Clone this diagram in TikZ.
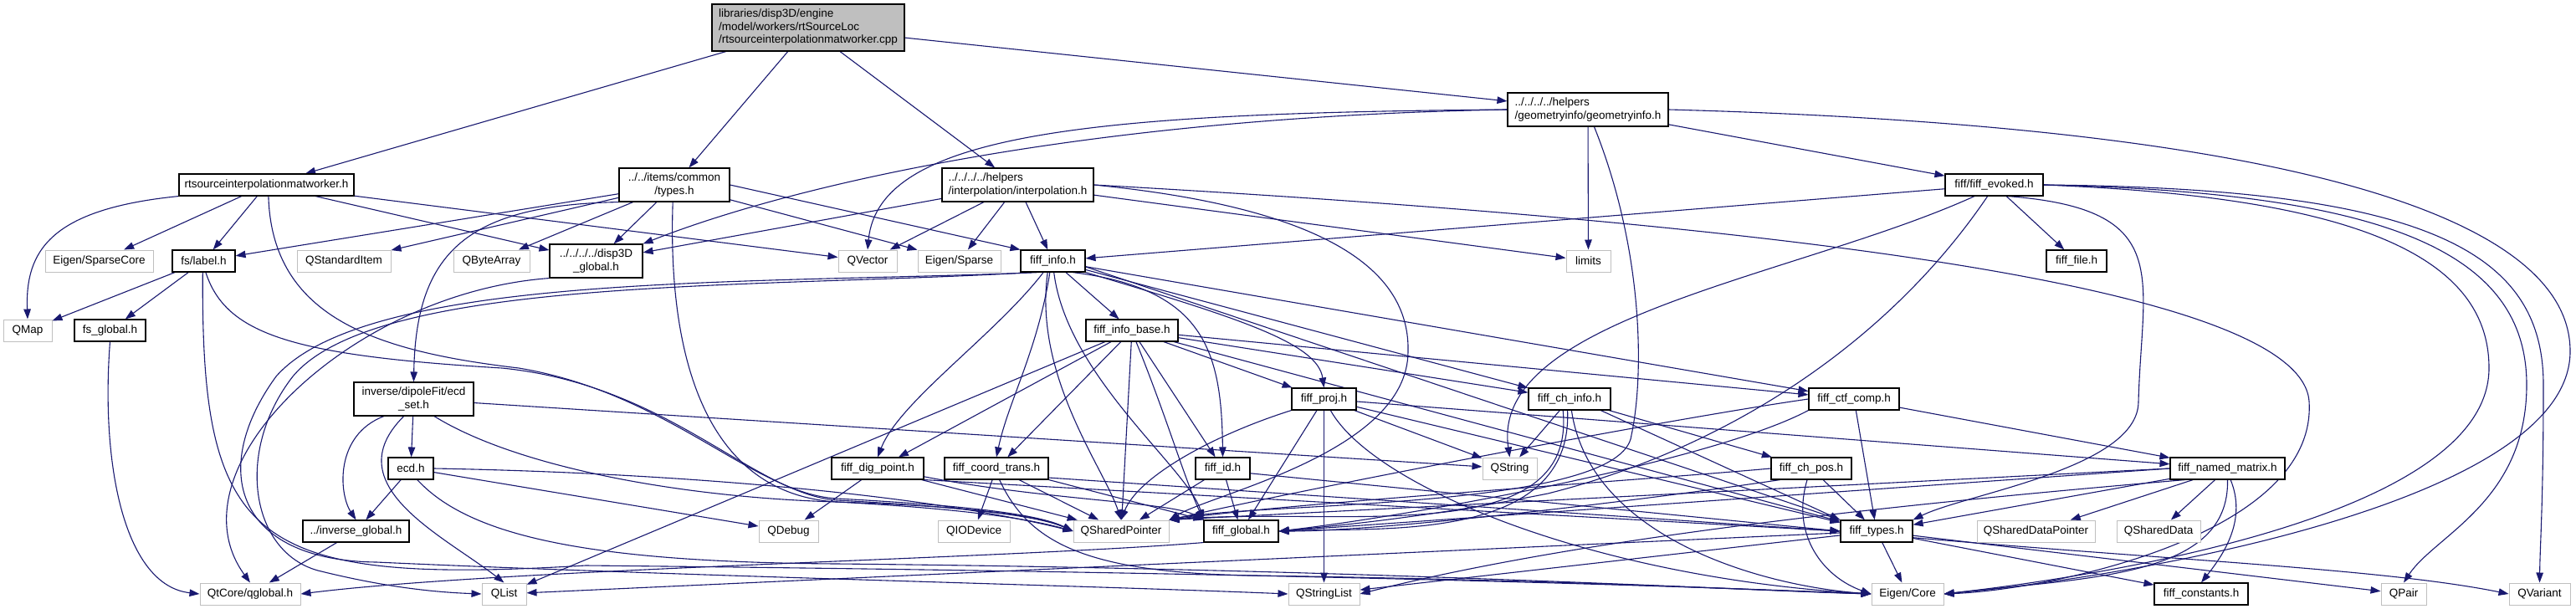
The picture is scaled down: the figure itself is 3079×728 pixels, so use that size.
\documentclass[tikz,border=0pt]{standalone}
\usepackage{fontspec}
\setmainfont{Liberation Sans}
\usetikzlibrary{arrows.meta,shadows}
\definecolor{dblue}{HTML}{191970}
\definecolor{lgray}{HTML}{BFBFBF}
\pgfdeclarelayer{bg}
\pgfsetlayers{bg,main}
\begin{document}
\begin{tikzpicture}[x=1pt,y=-1pt,
  base/.style={font=\fontsize{13.5}{15.5}\selectfont, inner sep=0pt, minimum height=26pt, fill=white},
  fnode/.style={base, draw=black, line width=1.1pt, drop shadow={shadow xshift=1.2pt, shadow yshift=-1.2pt, fill=black!55, opacity=1}},
  xnode/.style={base, draw=lgray, line width=1pt},
  ed/.style={draw=dblue, line width=1.1pt, -{Triangle[length=12pt,width=8.5pt]}}]
\useasboundingbox (0,0) rectangle (3079,728);
% rank 0-2
\node[fnode, fill=lgray, align=left, minimum width=230pt, minimum height=56pt] (main) at (966,33) {libraries/disp3D/engine\\/model/workers/rtSourceLoc\\/rtsourceinterpolationmatworker.cpp};
\node[fnode, align=left, minimum width=192pt, minimum height=40pt] (geom) at (1898,131) {../../../../helpers\\/geometryinfo/geometryinfo.h};
\node[fnode, minimum width=209pt] (rts) at (318.5,221) {rtsourceinterpolationmatworker.h};
\node[fnode, align=center, minimum width=132pt, minimum height=40pt] (types) at (806,221) {../../items/common\\/types.h};
\node[fnode, align=left, minimum width=181pt, minimum height=40pt] (interp) at (1216.5,221) {../../../../helpers\\/interpolation/interpolation.h};
\node[fnode, minimum width=117pt] (evoked) at (2383.5,221) {fiff/fiff\_evoked.h};
% rank 3
\node[xnode, minimum width=129pt] (sparsecore) at (118.5,312) {Eigen/SparseCore};
\node[fnode, minimum width=75pt] (label) at (243.5,312) {fs/label.h};
\node[xnode, minimum width=112pt] (qstditem) at (411,312) {QStandardItem};
\node[xnode, minimum width=91pt] (qbytearray) at (587.5,312) {QByteArray};
\node[fnode, align=center, minimum width=111pt, minimum height=40pt] (d3global) at (712.5,312) {../../../../disp3D\\\_global.h};
\node[xnode, minimum width=70pt] (qvector) at (1037,312) {QVector};
\node[xnode, minimum width=99pt] (esparse) at (1146.5,312) {Eigen/Sparse};
\node[fnode, minimum width=77pt] (finfo) at (1258.5,312) {fiff\_info.h};
\node[xnode, minimum width=53pt] (limits) at (1898.5,312) {limits};
\node[fnode, minimum width=72pt] (ffile) at (2482,312) {fiff\_file.h};
% rank 4
\node[xnode, minimum width=58pt] (qmap) at (33,395) {QMap};
\node[fnode, minimum width=85pt] (fsglobal) at (131.5,395) {fs\_global.h};
\node[fnode, minimum width=110pt] (fibase) at (1353,395) {fiff\_info\_base.h};
% rank 5
\node[fnode, align=center, minimum width=143pt, minimum height=40pt] (ecdset) at (494.5,477) {inverse/dipoleFit/ecd\\\_set.h};
\node[fnode, minimum width=77pt] (fproj) at (1582.5,477) {fiff\_proj.h};
\node[fnode, minimum width=98pt] (fchinfo) at (1876,477) {fiff\_ch\_info.h};
\node[fnode, minimum width=108pt] (fctf) at (2216,477) {fiff\_ctf\_comp.h};
% rank 6
\node[fnode, minimum width=54pt] (ecd) at (491,560) {ecd.h};
\node[fnode, minimum width=110pt] (fdig) at (1049,560) {fiff\_dig\_point.h};
\node[fnode, minimum width=124pt] (fcoord) at (1191,560) {fiff\_coord\_trans.h};
\node[fnode, minimum width=65pt] (fid) at (1461.5,560) {fiff\_id.h};
\node[xnode, minimum width=65pt] (qstring) at (1804.5,560) {QString};
\node[fnode, minimum width=96pt] (fchpos) at (2165,560) {fiff\_ch\_pos.h};
\node[fnode, minimum width=137pt] (fnamed) at (2662.5,560) {fiff\_named\_matrix.h};
% rank 7
\node[fnode, minimum width=127pt] (invglobal) at (425.5,635) {../inverse\_global.h};
\node[xnode, minimum width=71pt] (qdebug) at (942.5,635) {QDebug};
\node[xnode, minimum width=86pt] (qiodevice) at (1164,635) {QIODevice};
\node[xnode, minimum width=114pt] (qsp) at (1340,635) {QSharedPointer};
\node[fnode, minimum width=89pt] (fglobal) at (1483.5,635) {fiff\_global.h};
\node[fnode, minimum width=86pt] (ftypes) at (2243,635) {fiff\_types.h};
\node[xnode, minimum width=141pt] (qsdp) at (2433.5,635) {QSharedDataPointer};
\node[xnode, minimum width=100pt] (qsd) at (2580,635) {QSharedData};
% rank 8
\node[xnode, minimum width=120pt] (qglobal) at (299,710) {QtCore/qglobal.h};
\node[xnode, minimum width=53pt] (qlist) at (602.5,710) {QList};
\node[xnode, minimum width=85pt] (qsl) at (1582.5,710) {QStringList};
\node[xnode, minimum width=86pt] (ecore) at (2280,710) {Eigen/Core};
\node[fnode, minimum width=112pt] (fconst) at (2631,710) {fiff\_constants.h};
\node[xnode, minimum width=54pt] (qpair) at (2873,710) {QPair};
\node[xnode, minimum width=73pt] (qvariant) at (3035.5,710) {QVariant};

\begin{pgfonlayer}{bg}
\fill[white] (0,0) rectangle (3079,728);
% main
\draw[ed] (main) -- (rts);
\draw[ed] (main) -- (types);
\draw[ed] (main) -- (interp);
\draw[ed] (main) -- (geom);
% rtsource h
\draw[ed] (rts.south west) .. controls (60,250) and (30,300) .. (qmap.north);
\draw[ed] (rts) -- (sparsecore);
\draw[ed] (rts) -- (label);
\draw[ed] (rts) -- (d3global);
\draw[ed] (rts) -- (qvector);
\draw[ed] (rts.-80) .. controls (325,380) and (450,420) .. (620,440) .. controls (800,470) and (900,590) .. (1000,596) .. controls (1150,604) and (1240,614) .. (qsp.west);
% types
\draw[ed] (types) -- (label);
\draw[ed] (types) -- (qstditem);
\draw[ed] (types) -- (qbytearray);
\draw[ed] (types) -- (d3global);
\draw[ed] (types) -- (esparse);
\draw[ed] (types.east) -- (finfo.north west);
\draw[ed] (types.south west) .. controls (560,245) and (497,300) .. (ecdset.north);
\draw[ed] (types.-95) .. controls (798,420) and (840,590) .. (1000,600) .. controls (1150,608) and (1230,620) .. (qsp.west);
% interpolation
\draw[ed] (interp) -- (d3global);
\draw[ed] (interp) -- (qvector);
\draw[ed] (interp) -- (esparse);
\draw[ed] (interp) -- (finfo);
\draw[ed] (interp) -- (limits);
\draw[ed] (interp.east) .. controls (1600,250) and (1685,330) .. (1683,420) .. controls (1683,540) and (1450,590) .. (qsp.north east);
\draw[ed] (interp.east) .. controls (2000,260) and (2750,330) .. (2760,480) .. controls (2770,640) and (2450,705) .. (ecore.east);
% geometryinfo
\draw[ed] (geom.west) .. controls (1300,135) and (1050,160) .. (qvector.north);
\draw[ed] (geom.west) .. controls (1300,140) and (950,220) .. (d3global.north east);
\draw[ed] (geom) -- (limits);
\draw[ed] (geom.-70) .. controls (1965,300) and (1965,450) .. (1950,520) .. controls (1940,610) and (1500,600) .. (qsp.north east);
\draw[ed] (geom) -- (evoked);
\draw[ed] (geom.east) .. controls (2700,150) and (3072,250) .. (3072,420) .. controls (3072,600) and (2550,690) .. (ecore.east);
% evoked
\draw[ed] (evoked) -- (finfo);
\draw[ed] (evoked) -- (ffile);
\draw[ed] (evoked.-150) .. controls (2150,330) and (1780,380) .. (qstring.north);
\draw[ed] (evoked.-120) .. controls (2250,420) and (2050,540) .. (1850,590) .. controls (1700,620) and (1580,630) .. (fglobal.east);
\draw[ed] (evoked.-40) .. controls (2600,250) and (2560,330) .. (2556,480) .. controls (2556,560) and (2350,590) .. (ftypes.north east);
\draw[ed] (evoked.east) .. controls (2800,235) and (2975,300) .. (2975,440) .. controls (2975,620) and (2500,690) .. (ecore.east);
\draw[ed] (evoked.east) .. controls (2850,230) and (3020,300) .. (3020,460) .. controls (3020,600) and (2910,640) .. (qpair.north);
\draw[ed] (evoked.east) .. controls (2900,225) and (3040,300) .. (3040,460) .. controls (3040,600) and (3036,650) .. (qvariant.north);
% label
\draw[ed] (label) -- (qmap);
\draw[ed] (label) -- (fsglobal);
\draw[ed] (label.-95) .. controls (240,650) and (300,700) .. (700,676) .. controls (1500,684) and (2000,700) .. (ecore.west);
\draw[ed] (label.-80) .. controls (270,400) and (350,425) .. (600,440) .. controls (800,460) and (900,590) .. (1000,598) .. controls (1150,606) and (1240,616) .. (qsp.west);
% globals
\draw[ed] (fsglobal.south) .. controls (120,560) and (150,700) .. (qglobal.west);
\draw[ed] (d3global.south west) .. controls (420,350) and (200,560) .. (qglobal.north);
\draw[ed] (invglobal) -- (qglobal);
\draw[ed] (fglobal.south west) .. controls (1200,668) and (600,680) .. (qglobal.east);
% ecd_set
\draw[ed] (ecdset) -- (ecd);
\draw[ed] (ecdset.-150) .. controls (400,520) and (405,590) .. (invglobal.north);
\draw[ed] (ecdset.-120) .. controls (400,580) and (530,640) .. (qlist.north);
\draw[ed] (ecdset) -- (qstring);
\draw[ed] (ecdset.-40) .. controls (620,560) and (820,595) .. (1000,600) .. controls (1150,605) and (1240,615) .. (qsp.west);
% ecd
\draw[ed] (ecd) -- (invglobal);
\draw[ed] (ecd) -- (qdebug);
\draw[ed] (ecd.east) .. controls (800,565) and (1100,590) .. (qsp.west);
\draw[ed] (ecd.-60) .. controls (560,640) and (700,672) .. (1000,674) .. controls (1600,680) and (2000,702) .. (ecore.west);
% fiff_info
\draw[ed] (finfo) -- (fibase);
\draw[ed] (finfo.south east) .. controls (1480,380) and (1575,410) .. (fproj.north);
\draw[ed] (finfo) -- (fchinfo);
\draw[ed] (finfo) -- (fctf);
\draw[ed] (finfo.-130) .. controls (1190,400) and (1075,480) .. (fdig.north);
\draw[ed] (finfo.-105) .. controls (1240,420) and (1205,480) .. (fcoord.north);
\draw[ed] (finfo.-30) .. controls (1440,345) and (1460,420) .. (fid.north);
\draw[ed] (finfo.-115) .. controls (1235,450) and (1320,560) .. (qsp.north);
\draw[ed] (finfo.-85) .. controls (1275,450) and (1420,560) .. (fglobal.north west);
\draw[ed] (finfo.-10) -- (ftypes.north west);
\draw[ed] (finfo.-150) .. controls (900,345) and (450,330) .. (350,450) .. controls (280,540) and (300,660) .. (380,682) .. controls (460,702) and (520,708) .. (qlist.west);
\draw[ed] (finfo.-140) .. controls (900,340) and (440,325) .. (330,450) .. controls (250,560) and (280,670) .. (450,672) .. controls (800,688) and (1300,700) .. (qsl.west);
% fiff_info_base
\draw[ed] (fibase) -- (fproj);
\draw[ed] (fibase) -- (fchinfo);
\draw[ed] (fibase) -- (fctf);
\draw[ed] (fibase) -- (fdig);
\draw[ed] (fibase) -- (fcoord);
\draw[ed] (fibase) -- (fid);
\draw[ed] (fibase) -- (qsp);
\draw[ed] (fibase.-70) .. controls (1395,500) and (1415,570) .. (fglobal.north west);
\draw[ed] (fibase) -- (ftypes);
\draw[ed] (fibase) -- (qlist);
% fiff_proj
\draw[ed] (fproj.south west) .. controls (1450,520) and (1360,570) .. (qsp.north);
\draw[ed] (fproj) -- (fglobal);
\draw[ed] (fproj) -- (qstring);
\draw[ed] (fproj) -- (qsl);
\draw[ed] (fproj) -- (ftypes);
\draw[ed] (fproj) -- (fnamed);
\draw[ed] (fproj.-60) .. controls (1640,580) and (1900,690) .. (ecore.west);
% fiff_ch_info
\draw[ed] (fchinfo) -- (fchpos);
\draw[ed] (fchinfo) -- (qstring);
\draw[ed] (fchinfo.-120) .. controls (1885,660) and (1600,605) .. (qsp.north east);
\draw[ed] (fchinfo.-100) .. controls (1880,650) and (1650,630) .. (fglobal.east);
\draw[ed] (fchinfo.-20) -- (ftypes.north west);
\draw[ed] (fchinfo.-80) .. controls (1900,640) and (2100,700) .. (ecore.west);
% fiff_ctf_comp
\draw[ed] (fctf) -- (fnamed);
\draw[ed] (fctf) -- (ftypes);
\draw[ed] (fctf.west) .. controls (2000,500) and (1580,580) .. (qsp.north east);
\draw[ed] (fctf.south west) .. controls (2050,550) and (1700,615) .. (fglobal.east);
% fiff_dig_point
\draw[ed] (fdig) -- (qdebug);
\draw[ed] (fdig) -- (qsp);
\draw[ed] (fdig.-10) .. controls (1250,598) and (1400,600) .. (fglobal.north west);
\draw[ed] (fdig.south east) -- (ftypes.west);
% fiff_coord_trans
\draw[ed] (fcoord) -- (qiodevice);
\draw[ed] (fcoord) -- (qsp);
\draw[ed] (fcoord.south east) -- (fglobal.north west);
\draw[ed] (fcoord.-10) -- (ftypes.west);
\draw[ed] (fcoord.-75) .. controls (1230,650) and (1300,685) .. (1500,688) .. controls (1900,694) and (2100,706) .. (ecore.west);
% fiff_id
\draw[ed] (fid) -- (qsp);
\draw[ed] (fid) -- (fglobal);
\draw[ed] (fid.-10) -- (ftypes.west);
% fiff_ch_pos
\draw[ed] (fchpos) -- (ftypes);
\draw[ed] (fchpos.west) .. controls (1950,575) and (1560,600) .. (qsp.north east);
\draw[ed] (fchpos.-160) .. controls (1950,600) and (1650,635) .. (fglobal.east);
\draw[ed] (fchpos.-110) .. controls (2140,640) and (2180,690) .. (ecore.west);
% fiff_named_matrix
\draw[ed] (fnamed) -- (ftypes);
\draw[ed] (fnamed) -- (qsdp);
\draw[ed] (fnamed) -- (qsd);
\draw[ed] (fnamed.-75) .. controls (2685,620) and (2660,660) .. (fconst.north);
\draw[ed] (fnamed.south) .. controls (2665,690) and (2500,690) .. (ecore.east);
\draw[ed] (fnamed.-165) .. controls (2300,600) and (1900,640) .. (qsl.east);
\draw[ed] (fnamed.west) -- (fglobal.east);
\draw[ed] (fnamed.west) -- (qsp.north east);
% fiff_types
\draw[ed] (ftypes) -- (ecore);
\draw[ed] (ftypes) -- (fconst);
\draw[ed] (ftypes) -- (qpair);
\draw[ed] (ftypes.-10) .. controls (2600,670) and (2850,680) .. (qvariant.west);
\draw[ed] (ftypes) -- (qlist);
\draw[ed] (ftypes) -- (qsl);
\end{pgfonlayer}
\end{tikzpicture}
\end{document}
